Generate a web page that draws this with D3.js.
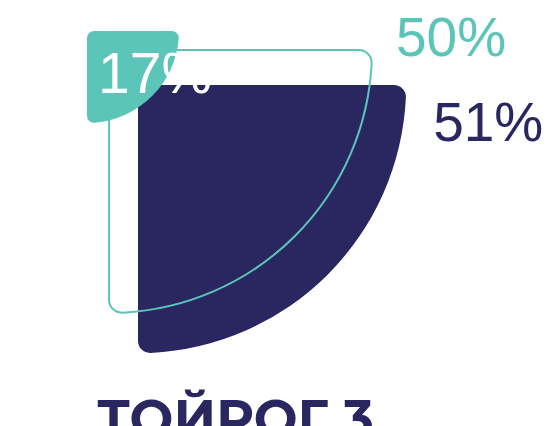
<!DOCTYPE html>
<html><head><meta charset="utf-8">
<script src="https://cdn.jsdelivr.net/npm/d3@7"></script>
<style>html,body{margin:0;padding:0;background:#fff;}svg{display:block;}</style>
</head><body>
<script>
const labels = ["ТОЙРОГ 3"];
const series = ["navy", "outline", "small"];
const values = [51, 50, 17];
const valueLabels = ["51%", "50%", "17%"];

const W = 560, H = 426;
const navy = "#2a2660", teal = "#5bc5b9";
const svg = d3.select("body").append("svg").attr("width", W).attr("height", H);

const r = d3.scaleLinear().domain([0, 100]).range([4, 522]);

function sector(R, c) {
  const d = Math.sqrt((R - c) * (R - c) - c * c);
  const k = R / (R - c);
  return `M${c},0 L${d},0 A${c},${c} 0 0 1 ${d * k},${c * k} ` +
    `A${R},${R} 0 0 1 ${c * k},${d * k} A${c},${c} 0 0 1 0,${d} ` +
    `L0,${c} A${c},${c} 0 0 1 ${c},0 Z`;
}

const cfg = [
  { x: 138, y: 85, fill: navy, stroke: "none", sw: 0, c: 12 },
  { x: 109, y: 50, fill: "none", stroke: teal, sw: 2, c: 13 },
  { x: 87, y: 31, fill: teal, stroke: "none", sw: 0, c: 7 }
];

values.forEach((v, i) => {
  const o = cfg[i];
  svg.append("path")
    .attr("transform", `translate(${o.x},${o.y})`)
    .attr("d", sector(r(v), o.c))
    .attr("fill", o.fill)
    .attr("stroke", o.stroke)
    .attr("stroke-width", o.sw);
});

const font = "'Liberation Sans', Arial, sans-serif";
svg.append("text").attr("x", cfg[0].x + r(values[0]) + 27).attr("y", 141)
  .attr("font-family", font).attr("font-size", 55).attr("fill", navy).text(valueLabels[0]);
svg.append("text").attr("x", cfg[1].x + r(values[1]) + 24).attr("y", 56)
  .attr("font-family", font).attr("font-size", 55).attr("fill", teal).text(valueLabels[1]);
svg.append("text").attr("x", cfg[2].x + 11).attr("y", 93)
  .attr("font-family", font).attr("font-size", 57).attr("fill", "#fff").text(valueLabels[2]);

svg.append("text").attr("x", 97).attr("y", 437)
  .attr("font-family", "Montserrat, 'Open Sans', sans-serif").attr("font-weight", 700)
  .attr("font-size", 52).attr("fill", navy).text(labels[0]);
</script>
</body></html>
